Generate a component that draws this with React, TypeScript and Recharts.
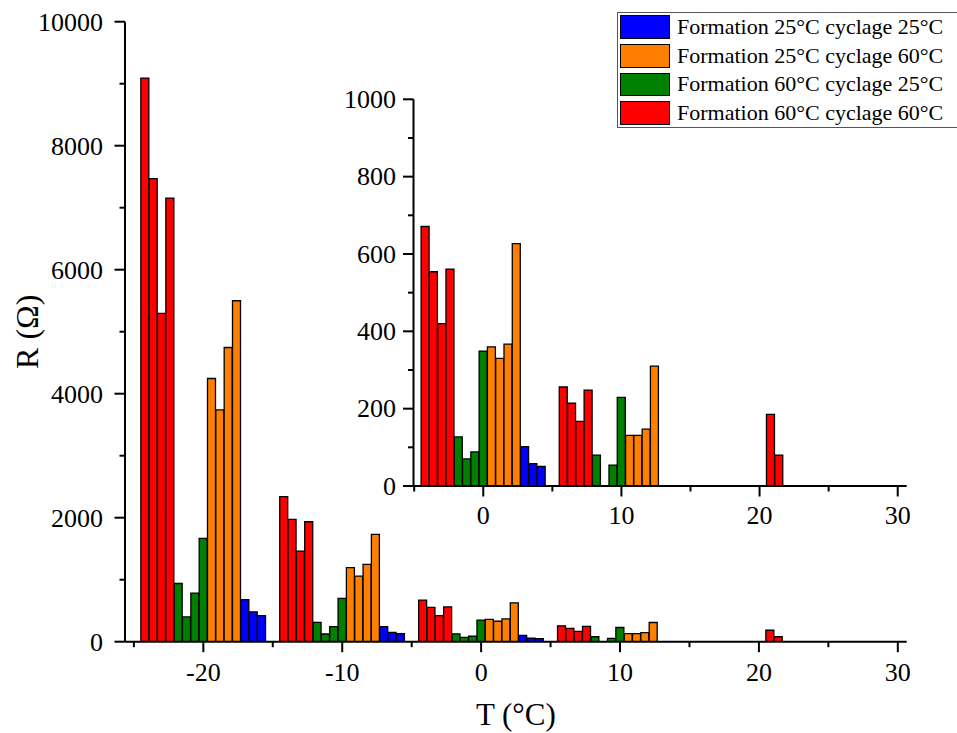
import React from 'react';
import { ComposedChart, Bar, XAxis, YAxis, Label } from 'recharts';

// Temperature groups (°C) and the spacing of cells inside a group
const GROUP_T = [-20, -10, 0, 10, 25];
const CELL_STEP = 0.6;
const CELLS_BEFORE_CENTER = 7;

// Resistance values R (Ω) per group, cell by cell (null = no bar)
const RED_F60_C60 = [
  [9090, 7470, 5295, 7155],
  [2339, 1973, 1462, 1935],
  [671, 554, 420, 561],
  [256, 214, 167, 248],
  [185, 80],
];
const GREEN_F60_C25 = [
  [939, 400, 785, 1668],
  [312, 124, 242, 699],
  [127, 70, 88, 349],
  [80, null, 54, 229],
  [],
];
const ORANGE_F25_C60 = [
  [4245, 3738, 4745, 5499],
  [1194, 1059, 1247, 1731],
  [360, 330, 367, 627],
  [131, 131, 147, 310],
  [],
];
const BLUE_F25_C25 = [
  [680, 482, 420],
  [242, 151, 129],
  [102, 58, 51],
  [],
  [],
];

// Legend order
const SERIES = [
  { key: 'f25c25', name: 'Formation 25°C cyclage 25°C', color: '#0000FF', values: BLUE_F25_C25 },
  { key: 'f25c60', name: 'Formation 25°C cyclage 60°C', color: '#FF8000', values: ORANGE_F25_C60 },
  { key: 'f60c25', name: 'Formation 60°C cyclage 25°C', color: '#008000', values: GREEN_F60_C25 },
  { key: 'f60c60', name: 'Formation 60°C cyclage 60°C', color: '#FF0000', values: RED_F60_C60 },
];
// Order of the bars inside each group, left to right
const BAR_ORDER = ['f60c60', 'f60c25', 'f25c60', 'f25c25'];

const MAIN_X_TICKS = [-25, -20, -15, -10, -5, 0, 5, 10, 15, 20, 25, 30];
const MAIN_Y_TICKS = [0, 1000, 2000, 3000, 4000, 5000, 6000, 7000, 8000, 9000, 10000];
const INSET_X_TICKS = [-5, 0, 5, 10, 15, 20, 25, 30];
const INSET_Y_TICKS = [0, 100, 200, 300, 400, 500, 600, 700, 800, 900, 1000];

const FONT = '"Liberation Serif", "Times New Roman", serif';

type Row = { T: number; [k: string]: number | null };

function buildRows(): Row[] {
  const rows: Row[] = [];
  GROUP_T.forEach((center, g) => {
    let idx = 0;
    BAR_ORDER.forEach((key) => {
      const s = SERIES.find((x) => x.key === key)!;
      s.values[g].forEach((v) => {
        if (v !== null && v !== undefined) {
          rows.push({ T: +(center + (idx - CELLS_BEFORE_CENTER) * CELL_STEP).toFixed(3), [key]: v });
        }
        idx += 1;
      });
    });
  });
  return rows;
}

const ROWS = buildRows();
const INSET_ROWS = ROWS.filter((r) => r.T > -5);

const makeYTick = (labelEvery: number, gap: number) => (props: any) => {
  const { x, y, payload } = props;
  const v = payload.value;
  const major = v % labelEvery === 0;
  return (
    <g>
      <line x1={x - (major ? 10.5 : 5.5)} x2={x} y1={y} y2={y} stroke="#000" strokeWidth={2} />
      {major && (
        <text x={x - gap} y={y + 8.8} textAnchor="end" fontFamily={FONT} fontSize={26} fill="#000">
          {v}
        </text>
      )}
    </g>
  );
};

const makeXTick = (labelEvery: number, baseline: number) => (props: any) => {
  const { x, y, payload } = props;
  const v = payload.value;
  const major = v % labelEvery === 0;
  return (
    <g>
      <line x1={x} x2={x} y1={y} y2={y + (major ? 10.5 : 5.5)} stroke="#000" strokeWidth={2} />
      {major && (
        <text x={x} y={y + baseline} textAnchor="middle" fontFamily={FONT} fontSize={26} fill="#000">
          {String(v)}
        </text>
      )}
    </g>
  );
};

const MainYTick = makeYTick(2000, 22);
const MainXTick = makeXTick(10, 39);
const InsetYTick = makeYTick(200, 17.5);
const InsetXTick = makeXTick(10, 38);

function renderBars() {
  return SERIES.map((s) => (
    <Bar
      key={s.key}
      dataKey={s.key}
      name={s.name}
      stackId="cells"
      fill={s.color}
      stroke="#000"
      strokeWidth={1.3}
      isAnimationActive={false}
    />
  ));
}

const axisLine = { stroke: '#000', strokeWidth: 2 };

export default function App() {
  return (
    <div style={{ position: 'absolute', left: 0, top: 0, width: 957, height: 733, background: '#fff' }}>
      <div style={{ position: 'absolute', left: 0, top: 0 }}>
        <ComposedChart
          width={957}
          height={733}
          data={ROWS}
          margin={{ top: 21.7, right: 50.3, bottom: 0, left: 0 }}
          barCategoryGap={0}
          barGap={0}
        >
          <XAxis
            dataKey="T"
            type="number"
            domain={[-25.64, 30.64]}
            allowDataOverflow
            ticks={MAIN_X_TICKS}
            interval={0}
            height={91.3}
            axisLine={axisLine}
            tickLine={false}
            tickSize={0}
            tickMargin={0}
            tick={MainXTick}
          >
            <Label
              content={(p: any) => {
                const vb = p.viewBox;
                return (
                  <text x={vb.x + vb.width / 2} y={vb.y + 83} textAnchor="middle" fontFamily={FONT} fontSize={31} fill="#000">
                    T (°C)
                  </text>
                );
              }}
            />
          </XAxis>
          <YAxis
            type="number"
            domain={[0, 10000]}
            allowDataOverflow
            ticks={MAIN_Y_TICKS}
            interval={0}
            width={125}
            axisLine={axisLine}
            tickLine={false}
            tickSize={0}
            tickMargin={0}
            tick={MainYTick}
          >
            <Label
              content={(p: any) => {
                const vb = p.viewBox;
                const cx = 27;
                const cy = vb.y + vb.height / 2;
                return (
                  <text
                    x={cx}
                    y={cy}
                    transform={`rotate(-90 ${cx} ${cy})`}
                    textAnchor="middle"
                    dominantBaseline="central"
                    fontFamily={FONT}
                    fontSize={32}
                    fill="#000"
                  >
                    R (Ω)
                  </text>
                );
              }}
            />
          </YAxis>
          {renderBars()}
        </ComposedChart>
      </div>
      <div style={{ position: 'absolute', left: 0, top: 0 }}>
        <ComposedChart
          width={957}
          height={733}
          data={INSET_ROWS}
          margin={{ top: 99.3, right: 50.3, bottom: 187, left: 300 }}
          barCategoryGap={0}
          barGap={0}
        >
          <XAxis
            dataKey="T"
            type="number"
            domain={[-5.05, 30.65]}
            allowDataOverflow
            ticks={INSET_X_TICKS}
            interval={0}
            height={60}
            axisLine={axisLine}
            tickLine={false}
            tickSize={0}
            tickMargin={0}
            tick={InsetXTick}
          />
          <YAxis
            type="number"
            domain={[0, 1000]}
            allowDataOverflow
            ticks={INSET_Y_TICKS}
            interval={0}
            width={113.5}
            axisLine={axisLine}
            tickLine={false}
            tickSize={0}
            tickMargin={0}
            tick={InsetYTick}
          />
          {renderBars()}
        </ComposedChart>
      </div>
      <div
        style={{
          position: 'absolute',
          left: 617,
          top: 11.7,
          width: 345,
          boxSizing: 'border-box',
          border: '1.5px solid #555',
          background: '#fff',
        }}
      >
        {SERIES.map((s) => (
          <div key={s.key} style={{ display: 'flex', alignItems: 'center', height: 28.7 }}>
            <div
              style={{
                marginLeft: 2,
                width: 50,
                height: 23.6,
                boxSizing: 'border-box',
                border: '1.5px solid #000',
                background: s.color,
                flex: 'none',
              }}
            />
            <span style={{ marginLeft: 7, fontFamily: FONT, fontSize: 22, color: '#000', whiteSpace: 'nowrap', lineHeight: 1 }}>
              {s.name}
            </span>
          </div>
        ))}
      </div>
    </div>
  );
}
